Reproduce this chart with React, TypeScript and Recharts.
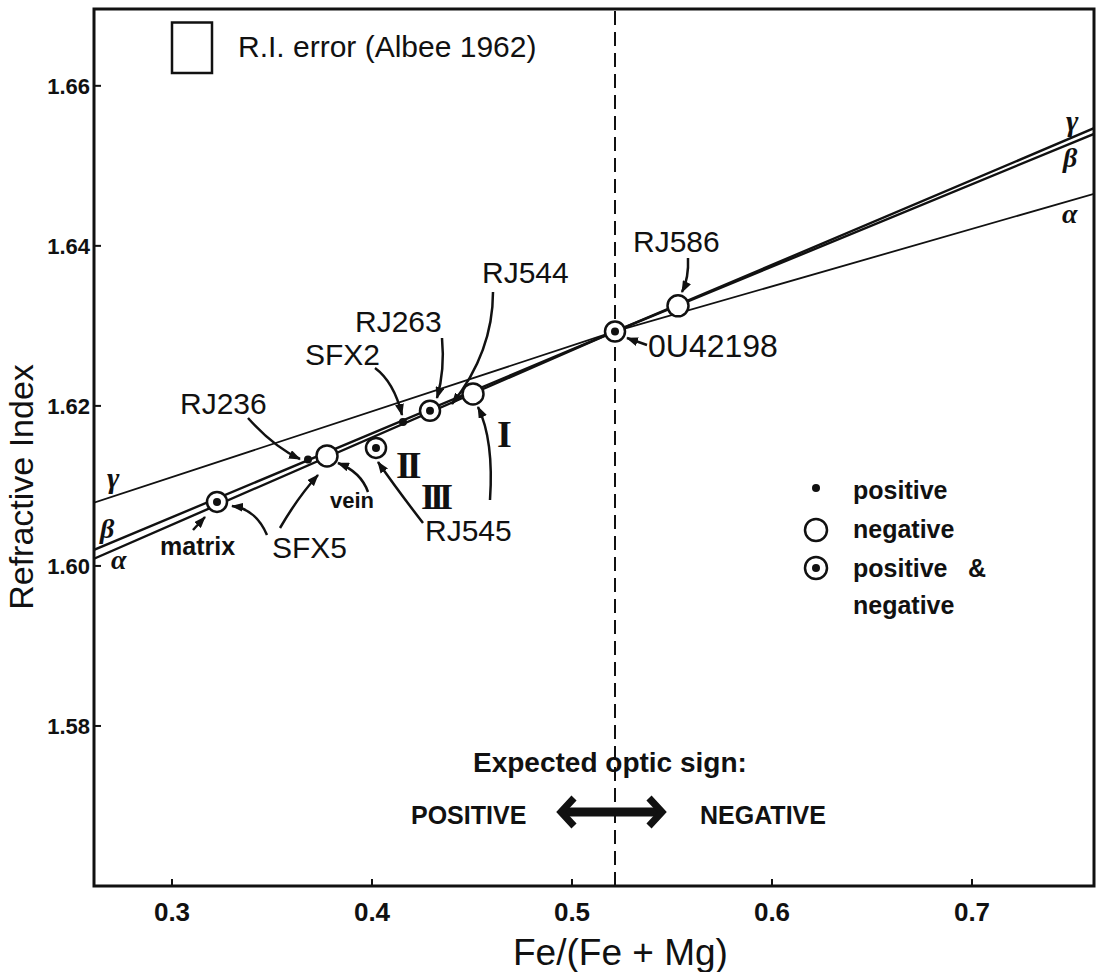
import React from "react"
import {
  ComposedChart,
  Line,
  Scatter,
  XAxis,
  YAxis,
  ReferenceLine,
  ReferenceArea,
} from "recharts"

// axis ranges and ticks
const X_MIN = 0.261
const X_MAX = 0.761
const Y_MIN = 1.56
const Y_MAX = 1.6696
const xTicks = [0.3, 0.4, 0.5, 0.6, 0.7]
const yTicks = [1.58, 1.6, 1.62, 1.64, 1.66]

// fitted index lines (they cross near OU42198)
const thinLine = [
  { x: 0.261, y: 1.6079 },
  { x: 0.5215, y: 1.6293 },
  { x: 0.761, y: 1.6465 },
]
const betaLine = [
  { x: 0.261, y: 1.602 },
  { x: 0.5215, y: 1.6293 },
  { x: 0.761, y: 1.654 },
]
const alphaLine = [
  { x: 0.261, y: 1.6009 },
  { x: 0.5215, y: 1.6293 },
  { x: 0.761, y: 1.6547 },
]

// samples by optic sign
const positiveSamples = [
  { x: 0.368, y: 1.6133, name: "RJ236" },
  { x: 0.4155, y: 1.618, name: "SFX2" },
]
const negativeSamples = [
  { x: 0.3775, y: 1.61375, name: "SFX5 vein" },
  { x: 0.4505, y: 1.6215, name: "I" },
  { x: 0.553, y: 1.6325, name: "RJ586" },
]
const bothSamples = [
  { x: 0.3225, y: 1.608, name: "SFX5 matrix" },
  { x: 0.402, y: 1.61475, name: "RJ545" },
  { x: 0.429, y: 1.6194, name: "RJ263" },
  { x: 0.5215, y: 1.6293, name: "OU42198" },
]

const DIVIDE_X = 0.5215
const errorBox = { x1: 0.3, x2: 0.32, y1: 1.6616, y2: 1.6679 }

const INK = "#111"
const SANS = "'Liberation Sans', Arial, sans-serif"
const SERIF = "'Liberation Serif', 'DejaVu Serif', serif"

const XTick = (props: any) => {
  const { x, y, payload } = props
  return (
    <g>
      <line x1={x} y1={y} x2={x} y2={y - 7} stroke={INK} strokeWidth={2} />
      <text x={x} y={y + 35} textAnchor="middle" fontFamily={SANS} fontWeight="bold" fontSize={26} fill={INK}>
        {payload.value.toFixed(1)}
      </text>
    </g>
  )
}

const YTick = (props: any) => {
  const { x, y, payload } = props
  return (
    <g>
      <line x1={x} y1={y} x2={x + 7} y2={y} stroke={INK} strokeWidth={2} />
      <text x={x - 4} y={y + 8} textAnchor="end" fontFamily={SANS} fontWeight="bold" fontSize={22} fill={INK}>
        {payload.value.toFixed(2)}
      </text>
    </g>
  )
}

const DotShape = (p: any) => <circle cx={p.cx} cy={p.cy} r={4} fill={INK} />
const OpenShape = (p: any) => (
  <circle cx={p.cx} cy={p.cy} r={10.5} fill="#fff" stroke={INK} strokeWidth={2.5} />
)
const BothShape = (p: any) => (
  <g>
    <circle cx={p.cx} cy={p.cy} r={10} fill="#fff" stroke={INK} strokeWidth={2.5} />
    <circle cx={p.cx} cy={p.cy} r={4} fill={INK} />
  </g>
)

// annotation arrows (page pixels)
const arrows = [
  "M688,258 Q689,278 682,292",
  "M493,292 Q493,352 452,404",
  "M442,338 Q445,370 437,398",
  "M375,368 Q394,382 402,415",
  "M248,418 Q274,447 300,459",
  "M267,535 Q256,509 232,506",
  "M280,528 Q298,497 318,475",
  "M193,530 L205,517",
  "M368,492 Q361,472 338,463",
  "M423,523 Q396,488 378,462",
  "M490,500 Q494,440 478,407",
  "M647,345 L627,338",
]

const labels = [
  { t: "RJ586", x: 633, y: 252, s: 30 },
  { t: "RJ544", x: 482, y: 283, s: 30 },
  { t: "RJ263", x: 355, y: 332, s: 30 },
  { t: "SFX2", x: 305, y: 365, s: 30 },
  { t: "RJ236", x: 180, y: 414, s: 30 },
  { t: "SFX5", x: 272, y: 558, s: 30 },
  { t: "RJ545", x: 425, y: 541, s: 30 },
  { t: "0U42198", x: 648, y: 357, s: 32 },
]

const Overlay = () => (
  <svg
    width={1102}
    height={972}
    style={{ position: "absolute", left: 0, top: 0, pointerEvents: "none" }}
  >
    <defs>
      <marker
        id="ah"
        viewBox="0 0 12 9"
        refX={11}
        refY={4.5}
        markerWidth={12}
        markerHeight={9}
        markerUnits="userSpaceOnUse"
        orient="auto"
      >
        <path d="M0,0 L12,4.5 L0,9 z" fill={INK} />
      </marker>
    </defs>

    {arrows.map((d, i) => (
      <path key={i} d={d} fill="none" stroke={INK} strokeWidth={2.5} markerEnd="url(#ah)" />
    ))}

    <g fontFamily={SANS} fill={INK}>
      {labels.map((l) => (
        <text key={l.t} x={l.x} y={l.y} fontSize={l.s}>
          {l.t}
        </text>
      ))}
      <text x={160} y={555} fontSize={25} fontWeight="bold">matrix</text>
      <text x={330} y={508} fontSize={22} fontWeight="bold">vein</text>
      <text x={238} y={57} fontSize={30}>R.I. error (Albee 1962)</text>

      <text x={473} y={772} fontSize={28} fontWeight="bold">Expected optic sign:</text>
      <text x={411} y={824} fontSize={25} fontWeight="bold">POSITIVE</text>
      <text x={700} y={824} fontSize={25} fontWeight="bold">NEGATIVE</text>

      <text x={853} y={499} fontSize={25} fontWeight="bold">positive</text>
      <text x={853} y={538} fontSize={25} fontWeight="bold">negative</text>
      <text x={853} y={577} fontSize={25} fontWeight="bold">positive</text>
      <text x={968} y={577} fontSize={25} fontWeight="bold">&amp;</text>
      <text x={853} y={614} fontSize={25} fontWeight="bold">negative</text>

      <text x={513} y={965} fontSize={37}>Fe/(Fe + Mg)</text>
      <text x={33} y={487} fontSize={34} textAnchor="middle" transform="rotate(-90 33 487)">
        Refractive Index
      </text>
    </g>

    <g fontFamily={SERIF} fontStyle="italic" fontWeight="bold" fill={INK}>
      <text x={107} y={488} fontSize={30}>γ</text>
      <text x={100} y={538} fontSize={28}>β</text>
      <text x={111} y={569} fontSize={28}>α</text>
      <text x={1066} y={131} fontSize={30}>γ</text>
      <text x={1063} y={167} fontSize={28}>β</text>
      <text x={1062} y={223} fontSize={28}>α</text>
    </g>

    <g fontFamily={SERIF} fontWeight="bold" fill={INK}>
      <text x={497} y={447} fontSize={38}>I</text>
      <text x={396} y={478} fontSize={38} letterSpacing={-4}>II</text>
      <text x={421} y={509} fontSize={36} letterSpacing={-5}>III</text>
    </g>

    {/* legend symbols */}
    <circle cx={816} cy={488} r={4} fill={INK} />
    <circle cx={816} cy={530} r={11} fill="#fff" stroke={INK} strokeWidth={2.5} />
    <circle cx={816} cy={568} r={11} fill="#fff" stroke={INK} strokeWidth={2.5} />
    <circle cx={816} cy={568} r={4} fill={INK} />

    {/* double arrow */}
    <line x1={565} y1={812} x2={658} y2={812} stroke={INK} strokeWidth={9} />
    <path d="M574,798 L561,812 L574,826" fill="none" stroke={INK} strokeWidth={7} />
    <path d="M649,798 L662,812 L649,826" fill="none" stroke={INK} strokeWidth={7} />
  </svg>
)

export default function App() {
  return (
    <div style={{ position: "absolute", left: 0, top: 0, width: 1102, height: 972, background: "#fff" }}>
      <ComposedChart width={1102} height={972} margin={{ top: 9, right: 8, left: 0, bottom: 0 }}>
        <XAxis
          type="number"
          dataKey="x"
          domain={[X_MIN, X_MAX]}
          ticks={xTicks}
          allowDataOverflow
          height={86}
          axisLine={false}
          tickLine={false}
          tickSize={0}
          tickMargin={0}
          tick={<XTick />}
          interval={0}
        />
        <YAxis
          type="number"
          dataKey="y"
          domain={[Y_MIN, Y_MAX]}
          ticks={yTicks}
          allowDataOverflow
          width={94}
          axisLine={false}
          tickLine={false}
          tickSize={0}
          tickMargin={0}
          tick={<YTick />}
          interval={0}
        />
        <ReferenceArea
          x1={X_MIN}
          x2={X_MAX}
          y1={Y_MIN}
          y2={Y_MAX}
          fill="none"
          fillOpacity={0}
          stroke={INK}
          strokeWidth={3}
        />
        <ReferenceArea
          x1={errorBox.x1}
          x2={errorBox.x2}
          y1={errorBox.y1}
          y2={errorBox.y2}
          fill="none"
          fillOpacity={0}
          stroke={INK}
          strokeWidth={2.5}
        />
        <ReferenceLine x={DIVIDE_X} stroke={INK} strokeWidth={2} strokeDasharray="14 7" />
        <Line data={thinLine} dataKey="y" stroke={INK} strokeWidth={1.8} dot={false} isAnimationActive={false} />
        <Line data={betaLine} dataKey="y" stroke={INK} strokeWidth={2.4} dot={false} isAnimationActive={false} />
        <Line data={alphaLine} dataKey="y" stroke={INK} strokeWidth={2.4} dot={false} isAnimationActive={false} />
        <Scatter data={positiveSamples} shape={DotShape} isAnimationActive={false} />
        <Scatter data={negativeSamples} shape={OpenShape} isAnimationActive={false} />
        <Scatter data={bothSamples} shape={BothShape} isAnimationActive={false} />
      </ComposedChart>
      <Overlay />
    </div>
  )
}
